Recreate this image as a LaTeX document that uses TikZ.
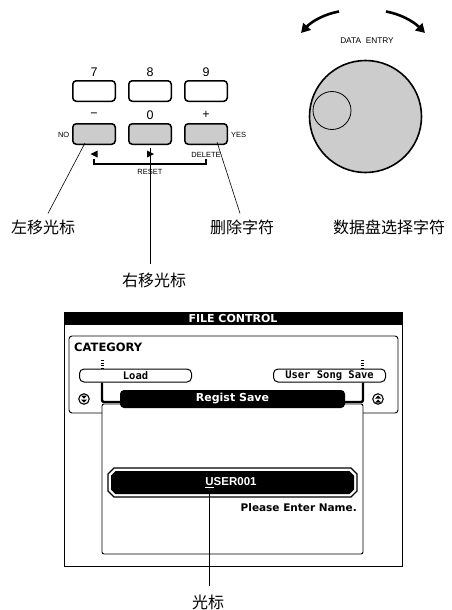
\documentclass[tikz,border=0pt]{standalone}
\usepackage{fontspec}
\setmainfont{Liberation Sans}
\newfontfamily\cjk{Noto Sans CJK SC}
\newfontfamily\lcd{DejaVu Sans}
\newfontfamily\lcdmono{DejaVu Sans Mono}
\usetikzlibrary{arrows.meta}
\definecolor{keygray}{RGB}{204,204,204}
\tikzset{
  keytop/.style={draw, line width=1.5pt, rounded corners=3.5pt, minimum width=42.5pt, minimum height=20.5pt, inner sep=0pt, fill=white},
  keybot/.style={keytop, fill=keygray},
  keylbl/.style={font=\fontsize{12.5}{14}\selectfont, inner sep=0pt},
  smalllbl/.style={font=\fontsize{7.5}{9}\selectfont, inner sep=0pt},
  cjklbl/.style={font=\cjk\fontsize{16}{18}\selectfont, inner sep=0pt},
  leader/.style={line width=0.6pt},
  dialarrow/.style={line width=2.6pt, -{Triangle[length=9pt,width=10pt]}},
  lcdtitle/.style={font=\lcd\bfseries\fontsize{11}{13}\selectfont, inner sep=0pt},
  lcdbox/.style={draw, line width=1pt, rounded corners=4.5pt, minimum width=112pt, minimum height=13pt, inner sep=0pt, fill=white, font=\lcdmono\bfseries\fontsize{10.5}{12}\selectfont},
  frame/.style={line width=0.9pt},
  bracketline/.style={line width=2.4pt, rounded corners=2pt},
  icon/.style={circle, draw, line width=1.1pt, minimum size=10.5pt, inner sep=0pt, fill=white}
}
\begin{document}
\begin{tikzpicture}[x=1pt,y=-1pt]
\useasboundingbox (0,0) rectangle (451,610);

% ---- keys ----
\node[keytop] (k7) at (94,91) {};
\node[keytop] (k8) at (150,91) {};
\node[keytop] (k9) at (206,91) {};
\node[keybot] (kminus) at (94,134) {};
\node[keybot] (k0) at (150,134) {};
\node[keybot] (kplus) at (206,134) {};
\node[keylbl] (l7) at (94,72) {7};
\node[keylbl] (l8) at (150,72) {8};
\node[keylbl] (l9) at (206,72) {9};
\node[keylbl] (lminus) at (94,115) {−};
\node[keylbl] (l0) at (150,115) {0};
\node[keylbl] (lplus) at (206,115) {+};
\node[smalllbl, anchor=east] (no) at (69.5,135) {NO};
\node[smalllbl, anchor=west] (yes) at (231,135) {YES};
\node[smalllbl] (del) at (206,154.5) {DELETE};
\node[smalllbl] (reset) at (150,172) {RESET};
\fill (90.5,154) -- (97.5,150.5) -- (97.5,157.5) -- cycle;
\fill (154,154) -- (147,150.5) -- (147,157.5) -- cycle;
\draw[line width=1.3pt] (94,158.5) -- (94,164) -- (206,164) -- (206,158.5);

% ---- leaders ----
\node[cjklbl] (tA) at (43,227) {左移光标};
\node[cjklbl] (tB) at (154,280) {右移光标};
\node[cjklbl] (tC) at (242,227) {删除字符};
\node[cjklbl] (tD) at (389,227) {数据盘选择字符};
\coordinate (sA) at (85,143);
\coordinate (sB) at (150,148);
\coordinate (sC) at (217,142);
\draw[leader] (sA) -- ([xshift=5pt,yshift=6pt]tA.north);
\draw[leader, shorten >=8pt] (sB) -- (sB |- tB.north);
\draw[leader] (sC) -- ([xshift=-2pt,yshift=6pt]tC.north);

% ---- dial ----
\node[circle, draw, line width=1.6pt, fill=keygray, minimum size=112pt, inner sep=0pt] (dial) at (365.5,116.5) {};
\node[circle, draw, line width=0.8pt, minimum size=38pt, inner sep=0pt] (knob) at (332,110.5) {};
\node[font=\fontsize{8.3}{10}\selectfont, inner sep=0pt] (de) at (367,41) {DATA\ \ ENTRY};
\draw[dialarrow] (339,11.5) .. controls (325,14) and (312,21) .. (301,33);
\draw[dialarrow] (386,11.5) .. controls (400,14) and (413,21) .. (425,33);

% ---- LCD ----
\draw[frame] (64,312) -- (64,566) -- (402,566) -- (402,312);
\fill (64,312) rectangle (402,324.5);
\node[lcdtitle, text=white] (fc) at (233,318.5) {FILE CONTROL};
\draw[frame, rounded corners=3pt] (69,336) rectangle (398,413);
\node[lcdtitle, anchor=west, font=\lcd\bfseries\fontsize{11.5}{13}\selectfont] (cat) at (74,347.5) {CATEGORY};
\foreach \yy in {360.5,363,365.5,368} {
  \draw[line width=0.9pt] (100.5,\yy) -- (103.5,\yy);
  \draw[line width=0.9pt] (360.5,\yy) -- (363.5,\yy);
}
\node[lcdbox] (load) at (135.5,375.5) {Load};
\node[lcdbox] (usave) at (329.5,375.5) {User Song Save};
\draw[frame, fill=white, rounded corners=2pt] (102,404) rectangle (363,554);
\node[fill=black, rounded corners=4pt, minimum width=225pt, minimum height=18pt, inner sep=0pt, text=white, font=\lcd\bfseries\fontsize{11}{13}\selectfont] (regist) at (232.5,399) {Regist Save};
\draw[bracketline] ([xshift=23pt]load.south west) |- ([yshift=-3pt]regist.west);
\draw[bracketline] ([xshift=-23pt]usave.south east) |- ([yshift=-3pt]regist.east);
\node[icon] (down) at (84,399) {};
\fill (81,395.5) -- (87,395.5) -- (84,398.5) -- cycle;
\fill (81,399.5) -- (87,399.5) -- (84,402.5) -- cycle;
\node[icon] (up) at (378,399) {};
\fill (375,398.5) -- (381,398.5) -- (378,395.5) -- cycle;
\fill (375,402.5) -- (381,402.5) -- (378,399.5) -- cycle;

% USER001 field
\draw[line width=1.2pt, fill=white] (114,468) -- (351,468) -- (357,474) -- (357,491) -- (351,497) -- (114,497) -- (108,491) -- (108,474) -- cycle;
\fill (115.5,471) -- (349.5,471) -- (354,475.5) -- (354,489.5) -- (349.5,494) -- (115.5,494) -- (111,489.5) -- (111,475.5) -- cycle;
\node[text=white, inner sep=0pt, font=\bfseries\fontsize{11.5}{13}\selectfont] (user) at (231,483) {\underline{U}SER001};
\node[anchor=east, inner sep=0pt, font=\lcd\bfseries\fontsize{10.5}{12}\selectfont] (pen) at (357,508) {Please Enter Name.};

\node[cjklbl] (tE) at (208,602) {光标};
\coordinate (sE) at (209,492);
\draw[leader, shorten >=8pt] (sE) -- (sE |- tE.north);
\end{tikzpicture}
\end{document}
